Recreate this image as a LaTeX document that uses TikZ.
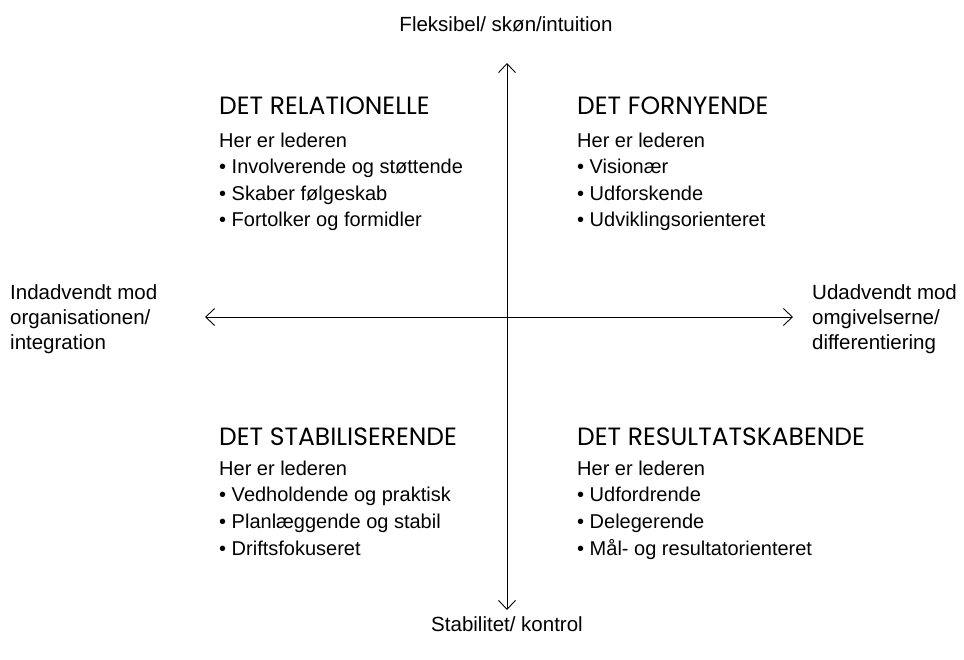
\documentclass[tikz,border=0pt]{standalone}
\usepackage{fontspec}
\setmainfont{Liberation Sans}
\newfontfamily\headfont{Poppins}
\usetikzlibrary{arrows.meta}

\tikzset{
  axis/.style={line width=0.9pt,
    {Straight Barb[length=9pt,width=17pt]}-{Straight Barb[length=9pt,width=17pt]}},
  axislabel/.style={font=\fontsize{20.5}{25}\selectfont, inner sep=0pt},
  quadhead/.style={font=\headfont\fontsize{25}{27}\selectfont, anchor=base west, inner sep=0pt},
  quadline/.style={font=\fontsize{20}{25}\selectfont, anchor=base west, inner sep=0pt},
}

\begin{document}
\begin{tikzpicture}[x=1pt,y=-1pt]
		\useasboundingbox (0,0) rectangle (964,659);
		% axes
		\coordinate (top) at (507,63);
		\coordinate (bottom) at (507,610);
		\coordinate (left) at (205,317);
		\coordinate (right) at (793,317);
		\draw [axis](top)--(bottom);
		\draw [axis](left)--(right);
		
		\node [axislabel, anchor=base](flex) at (506,31) {Fleksibel/ skøn/intuition};
		\node [axislabel, anchor=base](stab) at (507,631) {Stabilitet/ kontrol};
		\node [axislabel, anchor=north west, align=left](ind) at (10,284) {Indadvendt mod\\organisationen/\\integration};
		\node [axislabel, anchor=north west, align=left](ud) at (812,284) {Udadvendt mod\\omgivelserne/\\differentiering};
		
		% quadrants
		\node [quadhead](rel) at (219,114) {DET RELATIONELLE};
		\foreach \t [count=\i from 0] in {Her er lederen, \textbullet\ Involverende og støttende, \textbullet\ Skaber følgeskab, \textbullet\ Fortolker og formidler}
			\node [quadline](rel\i) at (219,{147+26.5*\i}) {\t};
		
		\node [quadhead](forn) at (577,114) {DET FORNYENDE};
		\foreach \t [count=\i from 0] in {Her er lederen, \textbullet\ Visionær, \textbullet\ Udforskende, \textbullet\ Udviklingsorienteret}
			\node [quadline](forn\i) at (577,{147+26.5*\i}) {\t};
		
		\node [quadhead](stabil) at (219,445) {DET STABILISERENDE};
		\foreach \t [count=\i from 0] in {Her er lederen, \textbullet\ Vedholdende og praktisk, \textbullet\ Planlæggende og stabil, \textbullet\ Driftsfokuseret}
			\node [quadline](stabil\i) at (219,{475+26.7*\i}) {\t};
		
		\node [quadhead](res) at (577,445) {DET RESULTATSKABENDE};
		\foreach \t [count=\i from 0] in {Her er lederen, \textbullet\ Udfordrende, \textbullet\ Delegerende, \textbullet\ Mål- og resultatorienteret}
			\node [quadline](res\i) at (577,{475+26.7*\i}) {\t};
		
		\end{tikzpicture}
\end{document}
